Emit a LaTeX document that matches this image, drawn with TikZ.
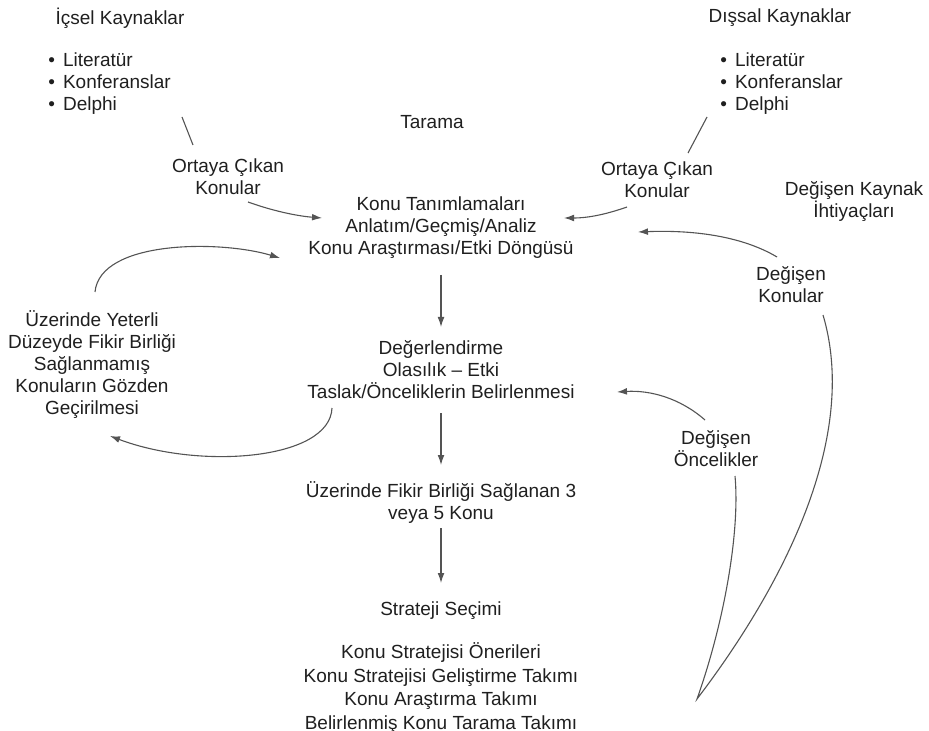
\documentclass[tikz,border=0pt]{standalone}
\usepackage{fontspec}
\setmainfont{Liberation Sans}
\usetikzlibrary{arrows.meta}
\definecolor{traitgris}{rgb}{0.33,0.33,0.33}
\definecolor{textegris}{rgb}{0.12,0.12,0.12}

\begin{document}
\begin{tikzpicture}[x=0.5pt, y=-0.5pt]
		% STYLES
		\tikzstyle{texte} = [align=center, inner sep=1pt, text=textegris, font=\fontsize{9.5}{11}\selectfont]
		\tikzstyle{liste} = [texte, align=left, anchor=west]
		\tikzstyle{trait} = [line width=0.55pt, draw=traitgris]
		\tikzstyle{fleche} = [trait, ->, >={Latex[length=5pt, width=3.4pt]}]

		% CADRE
		\useasboundingbox (0, 0) rectangle (929, 731);

		% SOURCES
		\node[texte] (icsel) at (120, 18) {İçsel Kaynaklar};
		\node[liste] (listeG) at (46, 84) {\textbullet\hspace{4pt}Literatür\\\textbullet\hspace{4pt}Konferanslar\\\textbullet\hspace{4pt}Delphi};
		\node[texte] (dissal) at (780, 18) {Dışsal Kaynaklar};
		\node[liste] (listeD) at (718, 84) {\textbullet\hspace{4pt}Literatür\\\textbullet\hspace{4pt}Konferanslar\\\textbullet\hspace{4pt}Delphi};
		\node[texte] (tarama) at (432, 122) {Tarama};
		\node[texte] (ortayaG) at (228, 177) {Ortaya Çıkan\\Konular};
		\node[texte] (ortayaD) at (657, 180) {Ortaya Çıkan\\Konular};
		\node[texte] (kaynak) at (854, 202) {Değişen Kaynak\\İhtiyaçları};

		% ETAPES
		\node[texte] (konu) at (441, 228) {Konu Tanımlamaları\\Anlatım/Geçmiş/Analiz\\Konu Araştırması/Etki Döngüsü};
		\node[texte] (deger) at (441, 370) {Değerlendirme\\Olasılık -- Etki\\Taslak/Önceliklerin Belirlenmesi};
		\node[texte] (uzerinde) at (441, 503) {Üzerinde Fikir Birliği Sağlanan 3\\veya 5 Konu};
		\node[texte] (strateji) at (441, 611) {Strateji Seçimi};
		\node[texte, font=\fontsize{9.5}{11.85}\selectfont] (takim) at (441, 688) {Konu Stratejisi Önerileri\\Konu Stratejisi Geliştirme Takımı\\Konu Araştırma Takımı\\Belirlenmiş Konu Tarama Takımı};

		% BOUCLES
		\node[texte] (yeterli) at (92, 365) {Üzerinde Yeterli\\Düzeyde Fikir Birliği\\Sağlanmamış\\Konuların Gözden\\Geçirilmesi};
		\node[texte] (dKonular) at (791, 285) {Değişen\\Konular};
		\node[texte] (dOncelik) at (716, 449) {Değişen\\Öncelikler};
		\coordinate (pointe) at (697, 699);

		% LIENS
		\draw[trait] ([shift={(136, 33)}]listeG.west) -- ([shift={(-35, -32)}]ortayaG.center);
		\draw[trait] ([shift={(-11, 33)}]listeD.west) -- ([shift={(31, -27)}]ortayaD.center);
		\draw[fleche] ([shift={(20, 25)}]ortayaG.center)
			.. controls +(25, 9) and +(-25, -2) .. ([shift={(-119, -10)}]konu.center);
		\draw[fleche] ([shift={(-30, 27)}]ortayaD.center)
			.. controls +(-20, 7) and +(25, 0) .. ([shift={(123, -10)}]konu.center);

		% DESCENTE
		\foreach \de/\vers/\dy/\dz in {konu/deger/47/-43, deger/uzerinde/43/-38, uzerinde/strateji/25/-28}
			\draw[fleche] ([shift={(0, \dy)}]\de.center) -- ([shift={(0, \dz)}]\vers.center);

		% RETOURS
		\draw[fleche] ([shift={(3, -73)}]yeterli.center)
			.. controls +(5, -52) and +(-60, -18) .. ([shift={(-161, 30)}]konu.center);
		\draw[fleche] ([shift={(-109, 38)}]deger.center)
			.. controls +(-2, 52) and +(90, 34) .. ([shift={(18, 71)}]yeterli.center);
		\draw[fleche] ([shift={(-14, -28)}]dKonular.center)
			.. controls +(-37, -22) and +(52, -2) .. ([shift={(197, 4)}]konu.center);
		\draw[fleche] ([shift={(-11, -29)}]dOncelik.center)
			.. controls +(-25, -22) and +(33, -2) .. ([shift={(176, 22)}]deger.center);
		\draw[trait] ([shift={(32, 30)}]dKonular.center)
			.. controls +(37, 125) and +(83, -109) .. (pointe)
			.. controls +(28, -79) and +(5, 54) .. ([shift={(19, 27)}]dOncelik.center);

	\end{tikzpicture}
\end{document}
